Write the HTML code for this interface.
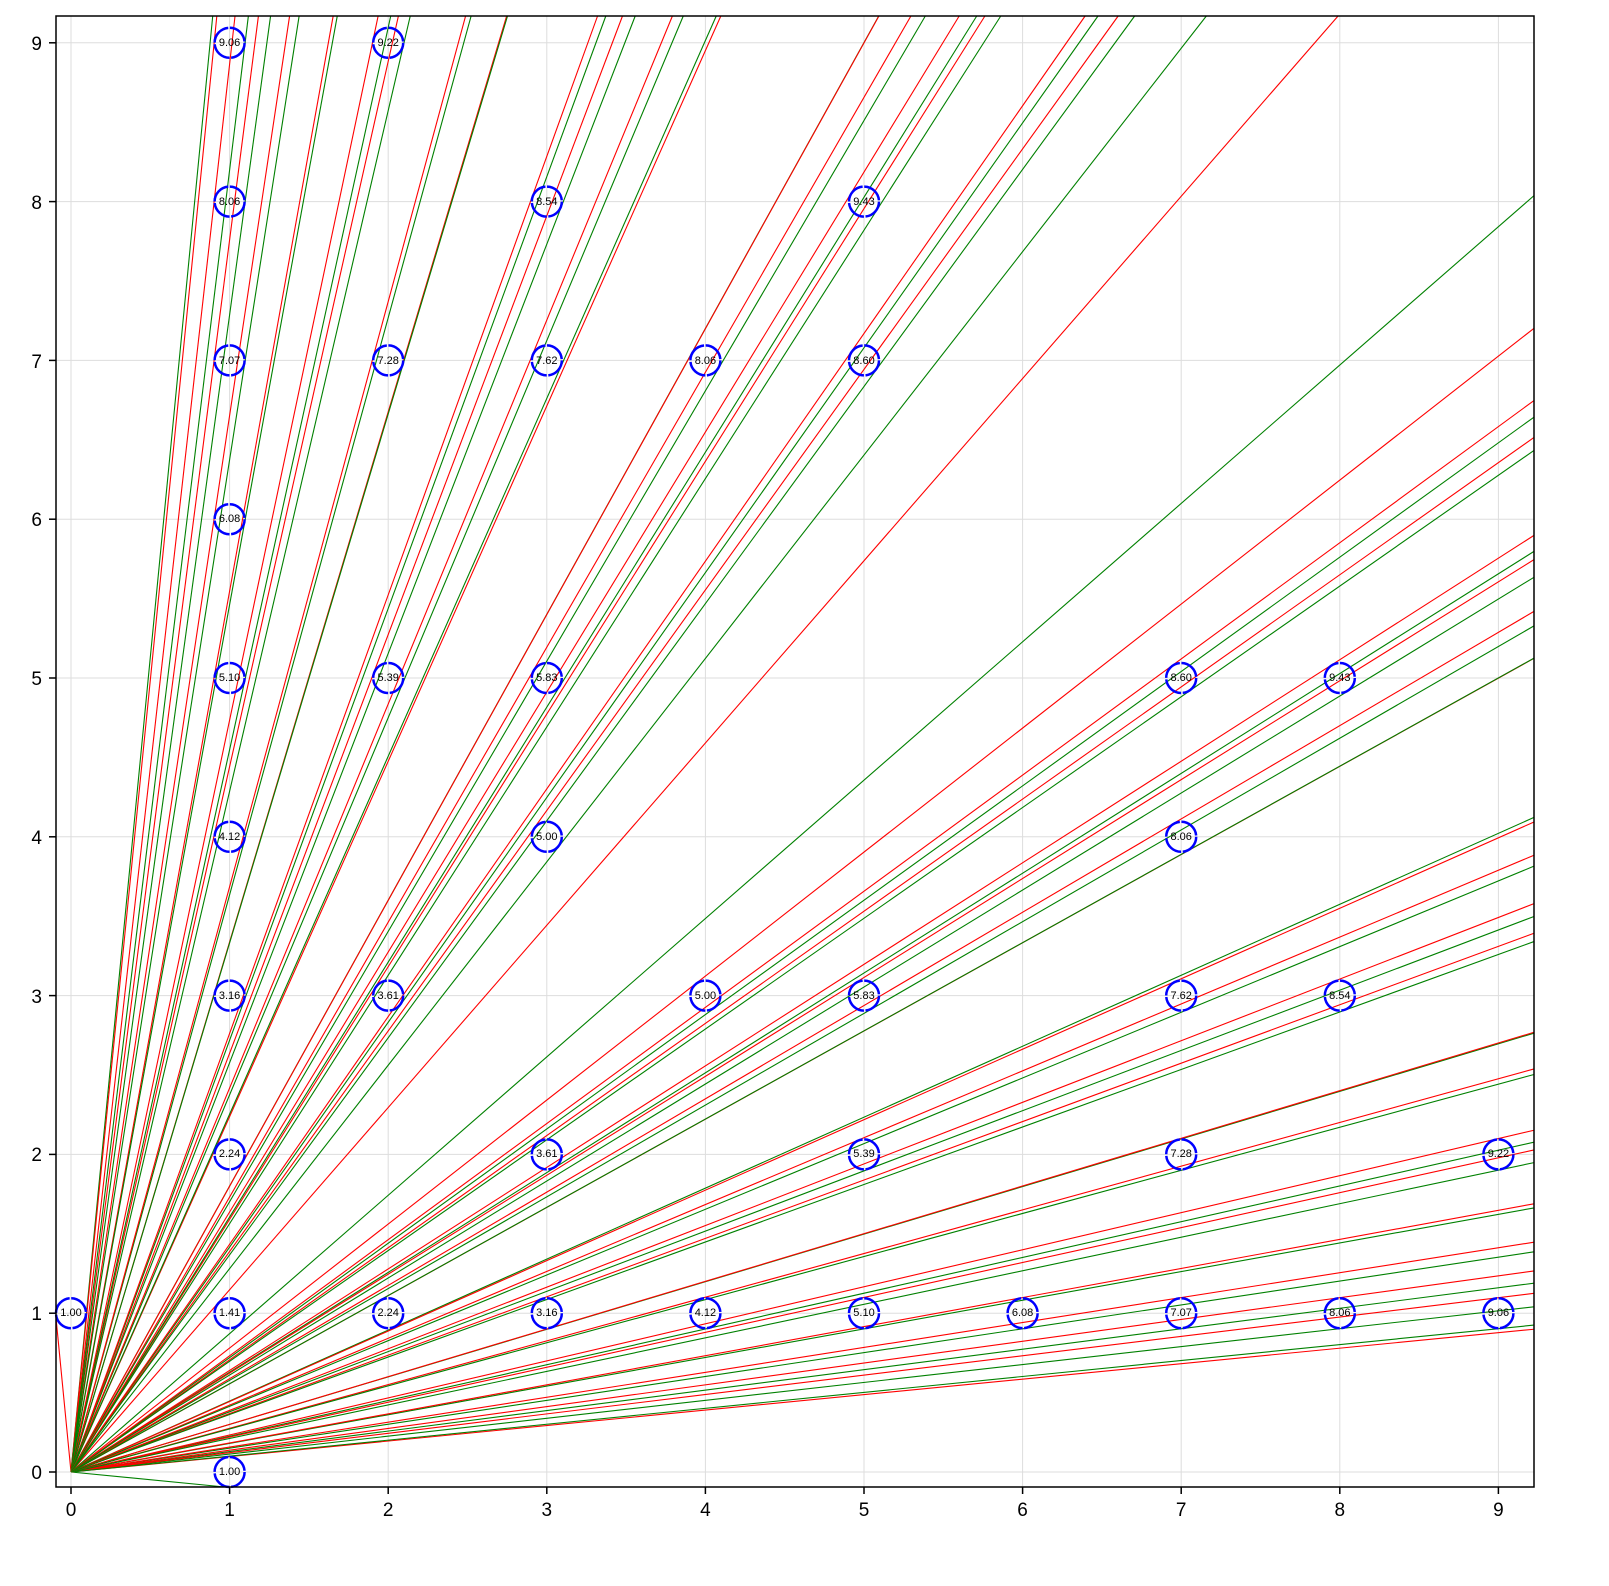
<!DOCTYPE html>
<html><head><meta charset="utf-8"><style>
html,body{margin:0;padding:0;background:#fff;width:1609px;height:1586px;overflow:hidden;position:relative}
svg{position:absolute;left:0;top:0;overflow:hidden;font-family:"Liberation Sans","DejaVu Sans",sans-serif}
</style></head><body>
<svg id="s" width="1609" height="1586" viewBox="0 0 1609 1586" xmlns="http://www.w3.org/2000/svg">
<g id="grid" stroke="#dddddd" stroke-width="1"></g>
<g id="lines" fill="none" stroke-width="1.1"></g>
<g id="circ" fill="none" stroke="#0000ff" stroke-width="2.5" stroke-dasharray="22 1.6"></g>
<g font-size="11" text-anchor="middle" fill="#000">
<text x="71" y="1316">1.00</text>
<text x="229.6" y="1475">1.00</text>
<text x="229.6" y="1316">1.41</text>
<text x="229.6" y="1157">2.24</text>
<text x="229.6" y="999">3.16</text>
<text x="229.6" y="840">4.12</text>
<text x="229.6" y="681">5.10</text>
<text x="229.6" y="522">6.08</text>
<text x="229.6" y="364">7.07</text>
<text x="229.6" y="205">8.06</text>
<text x="229.6" y="46">9.06</text>
<text x="388.2" y="1316">2.24</text>
<text x="388.2" y="999">3.61</text>
<text x="388.2" y="681">5.39</text>
<text x="388.2" y="364">7.28</text>
<text x="388.2" y="46">9.22</text>
<text x="546.8" y="1316">3.16</text>
<text x="546.8" y="1157">3.61</text>
<text x="546.8" y="840">5.00</text>
<text x="546.8" y="681">5.83</text>
<text x="546.8" y="364">7.62</text>
<text x="546.8" y="205">8.54</text>
<text x="705.4" y="1316">4.12</text>
<text x="705.4" y="999">5.00</text>
<text x="705.4" y="364">8.06</text>
<text x="864" y="1316">5.10</text>
<text x="864" y="1157">5.39</text>
<text x="864" y="999">5.83</text>
<text x="864" y="364">8.60</text>
<text x="864" y="205">9.43</text>
<text x="1022.6" y="1316">6.08</text>
<text x="1181.2" y="1316">7.07</text>
<text x="1181.2" y="1157">7.28</text>
<text x="1181.2" y="999">7.62</text>
<text x="1181.2" y="840">8.06</text>
<text x="1181.2" y="681">8.60</text>
<text x="1339.8" y="1316">8.06</text>
<text x="1339.8" y="999">8.54</text>
<text x="1339.8" y="681">9.43</text>
<text x="1498.4" y="1316">9.06</text>
<text x="1498.4" y="1157">9.22</text>
</g>
<rect x="56" y="16" width="1478" height="1471" fill="none" stroke="#000" stroke-width="1.5"/>
<g id="ticks" stroke="#000" stroke-width="1.5"></g>
<g font-size="19" fill="#000" text-anchor="middle">
<text x="71" y="1516">0</text><text x="229.6" y="1516">1</text><text x="388.2" y="1516">2</text><text x="546.8" y="1516">3</text><text x="705.4" y="1516">4</text><text x="864" y="1516">5</text><text x="1022.6" y="1516">6</text><text x="1181.2" y="1516">7</text><text x="1339.8" y="1516">8</text><text x="1498.4" y="1516">9</text>
</g>
<g font-size="19" fill="#000" text-anchor="end">
<text x="42" y="1479">0</text><text x="42" y="1320">1</text><text x="42" y="1161">2</text><text x="42" y="1003">3</text><text x="42" y="844">4</text><text x="42" y="685">5</text><text x="42" y="526">6</text><text x="42" y="368">7</text><text x="42" y="209">8</text><text x="42" y="50">9</text>
</g>
</svg>
<script>
var NS="http://www.w3.org/2000/svg";
function X(x){return 71+x*158.6;}
function Y(y){return 1472-y*158.8;}
function el(p,t,a){var e=document.createElementNS(NS,t);for(var k in a)e.setAttribute(k,a[k]);document.getElementById(p).appendChild(e);}
for(var i=0;i<=9;i++){
 el("grid","line",{x1:X(i),x2:X(i),y1:16,y2:1487});
 el("grid","line",{y1:Y(i),y2:Y(i),x1:56,x2:1534});
 el("ticks","line",{x1:X(i),x2:X(i),y1:1487,y2:1494});
 el("ticks","line",{y1:Y(i),y2:Y(i),x1:56,x2:49});
}
var pts=[[0,1],[1,0],[1,1],[1,2],[1,3],[1,4],[1,5],[1,6],[1,7],[1,8],[1,9],[2,1],[2,3],[2,5],[2,7],[2,9],[3,1],[3,2],[3,4],[3,5],[3,7],[3,8],[4,1],[4,3],[4,7],[5,1],[5,2],[5,3],[5,7],[5,8],[6,1],[7,1],[7,2],[7,3],[7,4],[7,5],[8,1],[8,3],[8,5],[9,1],[9,2]];
var r=0.097;
var x0=71,y0=1472,L=56,R=1534,T=16,B=1487;
function ray(th,col){
 var dx=Math.cos(th)*158.6, dy=-Math.sin(th)*158.8, t=1e9;
 if(dx>1e-9)t=Math.min(t,(R-x0)/dx); if(dx<-1e-9)t=Math.min(t,(L-x0)/dx);
 if(dy>1e-9)t=Math.min(t,(B-y0)/dy); if(dy<-1e-9)t=Math.min(t,(T-y0)/dy);
 el("lines","line",{x1:x0,y1:y0,x2:x0+dx*t,y2:y0+dy*t,stroke:col});
}
pts.forEach(function(p){
 var d=Math.hypot(p[0],p[1]),th=Math.atan2(p[1],p[0]),dl=Math.asin(r/d);
 ray(th+dl,"#ff0000"); ray(th-dl,"#008000");
});
pts.forEach(function(p){el("circ","circle",{cx:X(p[0]),cy:Y(p[1]),r:15});});
</script>
</body></html>
